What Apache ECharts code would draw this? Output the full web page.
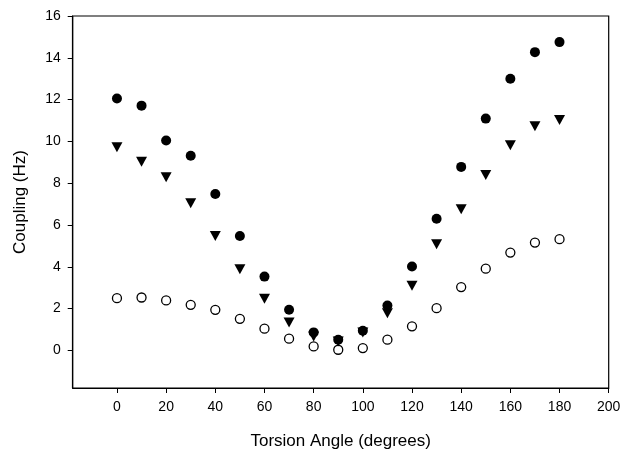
<!DOCTYPE html>
<html>
<head>
<meta charset="utf-8">
<script src="https://cdn.jsdelivr.net/npm/echarts@6/dist/echarts.min.js"></script>
<style>html,body{margin:0;padding:0;background:#fff;}#c{width:625px;height:452px;}</style>
</head>
<body>
<div id="c"></div>
<script>
const angles = [0,10,20,30,40,50,60,70,80,90,100,110,120,130,140,150,160,170,180];
const filledCircle = [12.05,11.71,10.04,9.31,7.48,5.47,3.53,1.94,0.86,0.51,0.94,2.15,4.01,6.30,8.78,11.09,13.0,14.27,14.75];
const triangleDown = [9.72,9.02,8.28,7.04,5.47,3.88,2.47,1.34,0.67,0.42,0.86,1.78,3.09,5.08,6.75,8.39,9.82,10.73,11.02];
const openCircle = [2.50,2.53,2.39,2.18,1.94,1.51,1.04,0.56,0.19,0.03,0.11,0.51,1.15,2.02,3.03,3.91,4.68,5.16,5.32];
const xTicks = [0,20,40,60,80,100,120,140,160,180,200];
const yTicks = [0,2,4,6,8,10,12,14,16];

const pair = arr => angles.map((a,i)=>[a,arr[i]]);
const chart = echarts.init(document.getElementById('c'), null, {renderer:'canvas'});
const font = 'Liberation Sans, Arial, sans-serif';
chart.setOption({
  animation:false,
  backgroundColor:'#fff',
  grid:{left:72.7,right:16.3,top:16,bottom:64,show:true,borderColor:'#000',borderWidth:1.2,backgroundColor:'transparent',
    outerBoundsMode:'none',containLabel:false},
  xAxis:{type:'value',min:-18,max:200,
    name:'Torsion Angle (degrees)',nameLocation:'middle',nameGap:45,
    nameTextStyle:{fontFamily:font,fontSize:17,color:'#000'},
    axisLine:{show:true,onZero:false,lineStyle:{color:'#000',width:1.2}},
    axisTick:{show:true,length:5,customValues:xTicks,lineStyle:{color:'#000'}},
    axisLabel:{customValues:xTicks,fontFamily:font,fontSize:14,color:'#000',margin:12},
    splitLine:{show:false}},
  yAxis:{type:'value',min:-1.8,max:16,
    name:'Coupling (Hz)',nameLocation:'middle',nameGap:44,
    nameTextStyle:{fontFamily:font,fontSize:17,color:'#000'},
    axisLine:{show:true,onZero:false,lineStyle:{color:'#000',width:1.2}},
    axisTick:{show:true,length:5,customValues:yTicks,lineStyle:{color:'#000'}},
    axisLabel:{customValues:yTicks,fontFamily:font,fontSize:14,color:'#000',margin:12},
    splitLine:{show:false}},
  series:[
    {type:'scatter',data:pair(openCircle),symbol:'circle',symbolSize:9,
      itemStyle:{color:'#fff',borderColor:'#000',borderWidth:1.3,opacity:1}},
    {type:'scatter',data:pair(triangleDown),symbol:'triangle',symbolRotate:180,symbolSize:[11,10],
      itemStyle:{color:'#000',opacity:1}},
    {type:'scatter',data:pair(filledCircle),symbol:'circle',symbolSize:10,
      itemStyle:{color:'#000',opacity:1}}
  ]
});
</script>
</body>
</html>
